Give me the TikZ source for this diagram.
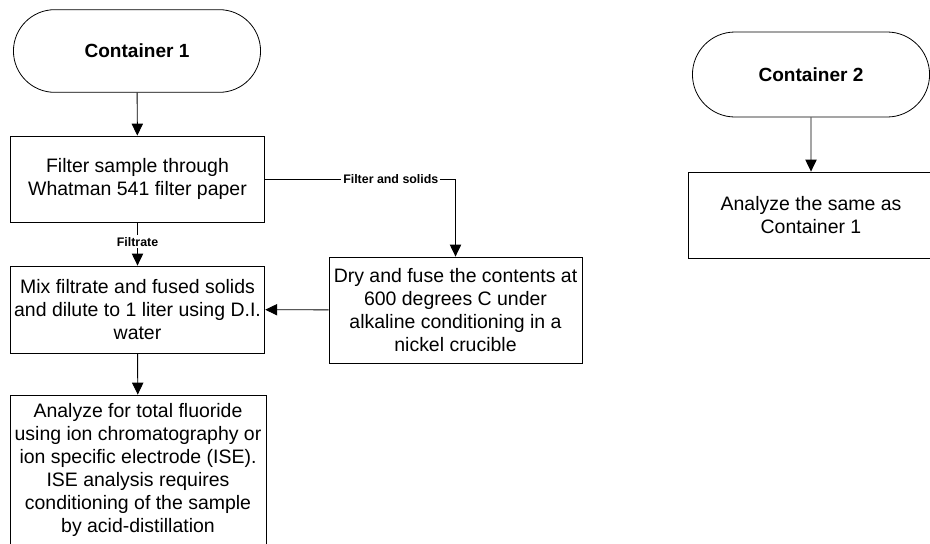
\documentclass[tikz,border=0pt]{standalone}
\usepackage{fontspec}
\setmainfont{Liberation Sans}
\usetikzlibrary{shapes,arrows.meta,positioning}

\begin{document}
\begin{tikzpicture}[x=0.75pt,y=-0.75pt]
      \tikzstyle{container} = [rounded rectangle, draw, line width=0.6pt, font=\fontsize{14.3}{16}\selectfont\bfseries, minimum width=192pt, minimum height=62pt]
      \tikzstyle{process} = [rectangle, draw, line width=0.6pt, align=center, inner xsep=2pt, font=\fontsize{14.6}{17.25}\selectfont, minimum width=191pt, minimum height=64.5pt]
      \tikzstyle{tag} = [fill=white, inner sep=1.5pt, font=\fontsize{9.3}{10}\selectfont\bfseries]
      \tikzstyle{flow} = [-{Triangle[width=8.5pt,length=9pt]}, line width=0.7pt]

      \useasboundingbox (0,0) rectangle (930,543);

      \node[container] (c1) at (137,51) {Container 1};
      \node[process] (f) at (137.5,179) {Filter sample through\\Whatman 541 filter paper};
      \node[process, minimum height=65.25pt] (m) at (137.5,309.5) {Mix filtrate and fused solids\\and dilute to 1 liter using D.I.\\water};
      \node[process, minimum width=192pt, minimum height=112.5pt] (a) at (138,470) {Analyze for total fluoride\\using ion chromatography or\\ion specific electrode (ISE).\\ISE analysis requires\\conditioning of the sample\\by acid-distillation};
      \node[process, minimum width=189.75pt, minimum height=79.5pt] (d) at (455.5,310) {Dry and fuse the contents at\\600 degrees C under\\alkaline conditioning in a\\nickel crucible};

      \node[container, minimum width=184.5pt, minimum height=63.75pt] (c2) at (811,74.5) {Container 2};
      \node[process, minimum width=184.5pt] (s) at (811,215) {Analyze the same as\\Container 1};

      \draw[flow] (c1) -- (f);
      \draw[flow] (f) -- (m) node[tag, pos=0.45] {Filtrate};
      \draw[flow] (f.east) -| (d.north) node[tag, pos=0.33] {Filter and solids};
      \draw[flow] (d) -- (m);
      \draw[flow] (m) -- (a);

      \draw[flow] (c2) -- (s);
    \end{tikzpicture}
\end{document}
